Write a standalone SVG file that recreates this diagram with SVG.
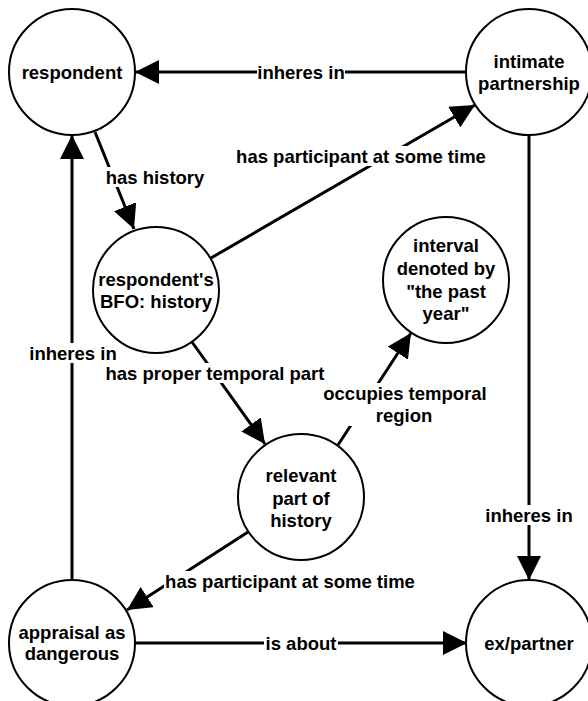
<svg xmlns="http://www.w3.org/2000/svg" width="588" height="701" viewBox="0 0 588 701">
<style>
.node circle{fill:#fff;stroke:#000;stroke-width:2}
text{font-family:"Liberation Sans",Arial,sans-serif;font-weight:bold;font-size:18.5px;fill:#000;text-anchor:middle}
.edge{stroke:#000;stroke-width:3;fill:none;marker-end:url(#arr)}
.lbg{fill:#fff}
</style>
<defs>
<marker id="arr" markerUnits="userSpaceOnUse" markerWidth="24" markerHeight="24" viewBox="0 0 24 24" refX="24" refY="12" orient="auto">
<path d="M0,0 L24,12 L0,24 Z" fill="#000"/>
</marker>
</defs>
<rect width="588" height="701" fill="#fff"/>
<g id="connectors">
<line class="edge" x1="466" y1="72" x2="135" y2="72"/>
<line class="edge" x1="95" y1="132" x2="134" y2="229"/>
<line class="edge" x1="211" y1="258" x2="475" y2="105"/>
<line class="edge" x1="192" y1="342" x2="265" y2="444"/>
<line class="edge" x1="338" y1="445" x2="411" y2="333"/>
<line class="edge" x1="529" y1="135" x2="529" y2="580"/>
<line class="edge" x1="248" y1="532" x2="127" y2="610"/>
<line class="edge" x1="72" y1="580" x2="72" y2="135"/>
<line class="edge" x1="135" y1="643" x2="467" y2="643"/>
<g id="labels">
<rect class="lbg" x="257" y="62" width="88" height="20"/>
<text x="301" y="78.5">inheres in</text>
<rect class="lbg" x="107" y="167" width="96" height="20"/>
<text x="155" y="183.5">has history</text>
<rect class="lbg" x="235" y="146" width="252" height="20"/>
<text x="361" y="162.5">has participant at some time</text>
<rect class="lbg" x="104" y="363" width="222" height="20"/>
<text x="215" y="379.5">has proper temporal part</text>
<rect class="lbg" x="322" y="383" width="166" height="43"/>
<text x="405" y="399.5">occupies temporal</text>
<text x="404" y="421.5">region</text>
<rect class="lbg" x="485" y="505" width="88" height="20"/>
<text x="529" y="521.5">inheres in</text>
<rect class="lbg" x="164" y="571" width="253" height="20"/>
<text x="290" y="587.5">has participant at some time</text>
<rect class="lbg" x="29" y="343" width="88" height="20"/>
<text x="73" y="359.5">inheres in</text>
<rect class="lbg" x="264" y="633" width="74" height="20"/>
<text x="301" y="649.5">is about</text>
</g>
</g>
<g id="respondent" class="node">
<circle cx="72" cy="72" r="63"/>
<text x="72" y="78.5">respondent</text>
</g>
<g id="intimate-partnership" class="node">
<circle cx="529" cy="72" r="63"/>
<text x="529" y="67.5">intimate</text>
<text x="529" y="89.5">partnership</text>
</g>
<g id="history" class="node">
<circle cx="156" cy="290" r="63"/>
<text x="156" y="285.5">respondent's</text>
<text x="156" y="307.5">BFO: history</text>
</g>
<g id="interval" class="node">
<circle cx="446" cy="280" r="63"/>
<text x="446" y="251.5">interval</text>
<text x="446" y="274.5">denoted by</text>
<text x="446" y="297.5">"the past</text>
<text x="446" y="319.5">year"</text>
</g>
<g id="relevant-part" class="node">
<circle cx="301" cy="497" r="63"/>
<text x="301" y="481.5">relevant</text>
<text x="301" y="504.5">part of</text>
<text x="301" y="526.5">history</text>
</g>
<g id="appraisal" class="node">
<circle cx="72" cy="643" r="63"/>
<text x="72" y="638.5">appraisal as</text>
<text x="72" y="659.5">dangerous</text>
</g>
<g id="ex-partner" class="node">
<circle cx="529" cy="643" r="63"/>
<text x="529" y="649.5">ex/partner</text>
</g>
</svg>
